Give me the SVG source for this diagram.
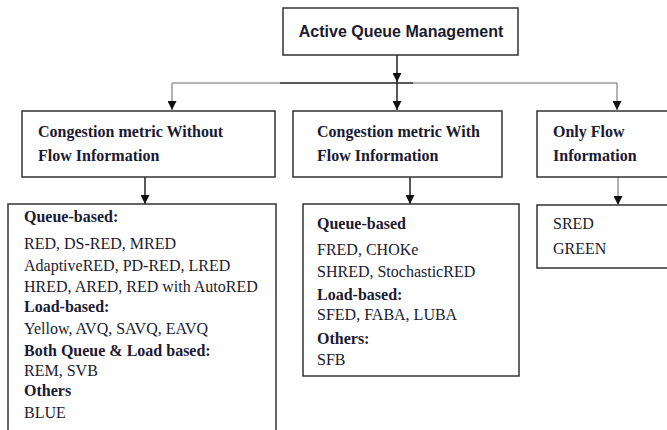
<svg xmlns="http://www.w3.org/2000/svg" width="667" height="430" viewBox="0 0 667 430">
<style>
.box{fill:#fff;stroke:#333;stroke-width:1.5}
.ser{font-family:"Liberation Serif","Times New Roman",serif;font-size:16px;fill:#1a1a30}
.b{font-weight:bold}
.san{font-family:"Liberation Sans",Arial,sans-serif;font-size:16px;font-weight:bold;fill:#1a1a30}
.ln{stroke:#222;stroke-width:1.5;fill:none}
.lg{stroke:#999;stroke-width:1.5;fill:none}
</style>
<defs>
<marker id="ah" viewBox="0 0 10 10" refX="10" refY="5" markerWidth="9" markerHeight="9" markerUnits="userSpaceOnUse" orient="auto">
<path d="M0,0 L10,5 L0,10 z" fill="#111"/>
</marker>
</defs>
<g id="connectors">
<line class="ln" x1="397" y1="55" x2="397" y2="82" marker-end="url(#ah)"/>
<line class="ln" x1="397" y1="82" x2="397" y2="110" marker-end="url(#ah)"/>
<path class="lg" d="M172,83 L280,83"/>
<path class="ln" d="M280,83 L413,83"/>
<path class="lg" d="M413,83 L617,83"/>
<line class="lg" x1="172" y1="83" x2="172" y2="110" marker-end="url(#ah)"/>
<line class="lg" x1="617" y1="83" x2="617" y2="110" marker-end="url(#ah)"/>
<line class="ln" x1="145" y1="177" x2="145" y2="204" marker-end="url(#ah)"/>
<line class="ln" x1="410" y1="177" x2="410" y2="204" marker-end="url(#ah)"/>
<line class="lg" x1="618" y1="177" x2="618" y2="205" marker-end="url(#ah)"/>
</g>
<g id="aqm">
<rect class="box" x="283" y="8" width="235" height="47"/>
<text class="san" x="401" y="37" text-anchor="middle">Active Queue Management</text>
</g>
<g id="without">
<rect class="box" x="22" y="111" width="253" height="66"/>
<text class="ser b" x="38" y="137">Congestion metric Without</text>
<text class="ser b" x="38" y="161">Flow Information</text>
</g>
<g id="with">
<rect class="box" x="293" y="111" width="209" height="66"/>
<text class="ser b" x="317" y="137">Congestion metric With</text>
<text class="ser b" x="317" y="161">Flow Information</text>
</g>
<g id="only">
<rect class="box" x="537" y="111" width="145" height="66"/>
<text class="ser b" x="553" y="137">Only Flow</text>
<text class="ser b" x="553" y="161">Information</text>
</g>
<g id="list-without">
<rect class="box" x="8" y="204" width="268" height="240"/>
<text class="ser b" x="24" y="222">Queue-based:</text>
<text class="ser" x="24" y="249">RED, DS-RED, MRED</text>
<text class="ser" x="24" y="271">AdaptiveRED, PD-RED, LRED</text>
<text class="ser" x="24" y="292">HRED, ARED, RED with AutoRED</text>
<text class="ser b" x="24" y="312">Load-based:</text>
<text class="ser" x="24" y="334">Yellow, AVQ, SAVQ, EAVQ</text>
<text class="ser b" x="24" y="356">Both Queue &amp; Load based:</text>
<text class="ser" x="24" y="376">REM, SVB</text>
<text class="ser b" x="24" y="396">Others</text>
<text class="ser" x="24" y="418">BLUE</text>
</g>
<g id="list-with">
<rect class="box" x="303" y="204" width="216" height="172"/>
<text class="ser b" x="317" y="229">Queue-based</text>
<text class="ser" x="317" y="255">FRED, CHOKe</text>
<text class="ser" x="317" y="277">SHRED, StochasticRED</text>
<text class="ser b" x="317" y="300">Load-based:</text>
<text class="ser" x="317" y="320">SFED, FABA, LUBA</text>
<text class="ser b" x="317" y="344">Others:</text>
<text class="ser" x="317" y="365">SFB</text>
</g>
<g id="list-only">
<rect class="box" x="537" y="205" width="145" height="63"/>
<text class="ser" x="553" y="229">SRED</text>
<text class="ser" x="553" y="254">GREEN</text>
</g>
</svg>
